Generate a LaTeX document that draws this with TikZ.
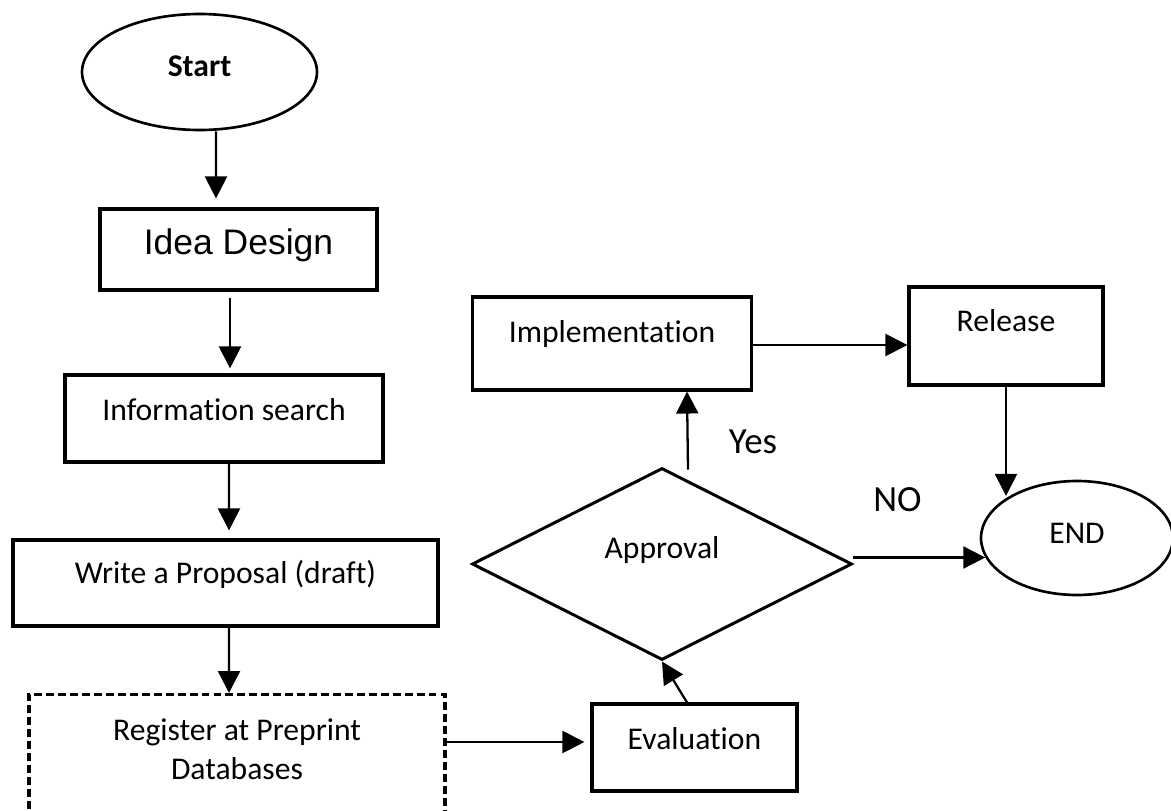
\documentclass[tikz,border=0pt]{standalone}
\usepackage{fontspec}
\setmainfont{Carlito}[Ligatures=NoCommon]
\newfontfamily\arialfont{Liberation Sans}
\usepackage{tikz}
\usetikzlibrary{arrows.meta,shapes.geometric}
\newlength\px
\setlength\px{0.02cm}

\begin{document}
\begin{tikzpicture}[x=1\px, y=-1\px,
        proc/.style={draw, line width=1.8pt, inner sep=0pt, text height=0pt, text depth=0pt,
                    font=\fontsize{18}{22}\selectfont},
        term/.style={draw, ellipse, line width=1.5pt, inner sep=0pt, text height=0pt, text depth=0pt,
                    font=\fontsize{18}{22}\selectfont},
        decide/.style={draw, diamond, line width=1.7pt, inner sep=0pt, text height=0pt, text depth=0pt,
                    font=\fontsize{18}{22}\selectfont},
        lbl/.style={inner sep=0pt, anchor=base, font=\fontsize{21}{25}\selectfont},
        arr/.style={-{Triangle[length=12.5pt, width=12.5pt]}, line width=1.3pt}
]
    \useasboundingbox (0,0) rectangle (1171,811);

    % left column
    \node[term, minimum width=235\px, minimum height=116\px, text height=10\px,
          font=\fontsize{18}{22}\selectfont\bfseries] (start) at (199.5,72) {Start};
    \node[proc, minimum width=277\px, minimum height=81\px, text height=11\px,
          font=\fontsize{20.2}{24}\arialfont] (idea) at (238.5,249.5) {Idea Design};
    \node[proc, minimum width=318\px, minimum height=87\px, text height=3\px] (info) at (224,418.5) {Information search};
    \node[proc, minimum width=425\px, minimum height=86\px] (write) at (225.5,583) {Write a Proposal (draft)};
    \node[proc, dash pattern=on 4.5pt off 2.3pt, anchor=north, align=center, minimum width=416\px, minimum height=137\px,
          text height=33\px] (reg) at (237,693) {Register at Preprint\\Databases};

    % right part
    \node[proc, minimum width=205\px, minimum height=87\px, text height=3\px] (eval) at (694.5,747.5) {Evaluation};
    \node[decide, minimum width=380\px, minimum height=192\px, text depth=12\px] (appr) at (662,564) {Approval};
    \node[proc, minimum width=279\px, minimum height=93\px, text depth=3\px] (impl) at (612,343.5) {Implementation};
    \node[proc, minimum width=194\px, minimum height=98\px, text depth=10\px] (rel) at (1006,336) {Release};
    \node[term, minimum width=192\px, minimum height=114\px, text height=10\px] (end) at (1077,538) {END};

    \node[lbl] (yes) at (753,453) {Yes};
    \node[lbl] (no) at (897.5,511) {NO};

    \draw[arr, shorten >=9\px] ([xshift=16.5\px]start.south) -- ([xshift=-22.5\px]idea.north);
    \draw[arr, shorten <=6\px, shorten >=5\px] ([xshift=-8.5\px]idea.south) -- ([xshift=6\px]info.north);
    \draw[arr, shorten >=8\px] ([xshift=5\px]info.south) -- ([xshift=3.5\px]write.north);
    \draw[arr] ([xshift=3.5\px]write.south) -- ([xshift=-8\px]reg.north);
    \draw[arr, shorten >=6\px] ([yshift=5.5\px]reg.east |- eval.west) -- ([yshift=5.5\px]eval.west);
    \draw[arr] ([xshift=-7.5\px]eval.north) -- (appr.south);
    \draw[arr] ([xshift=26\px, yshift=-3\px]appr.north) -- ([xshift=75\px]impl.south);
    \draw[arr] ([yshift=-1.5\px]impl.east) -- ([yshift=-1.5\px]impl.east -| rel.west);
    \draw[arr] (rel.south) -- (rel.south |- end.148);
    \draw[arr] (appr.east |- end.192) -- (end.192);
\end{tikzpicture}
\end{document}
